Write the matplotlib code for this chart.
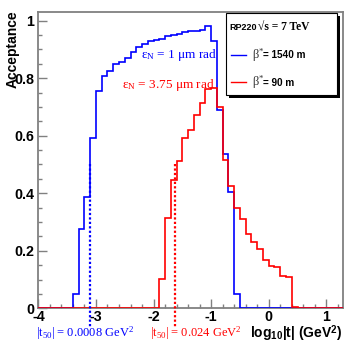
import numpy as np
import matplotlib
matplotlib.use("Agg")
import matplotlib.pyplot as plt
from matplotlib.patches import Rectangle
from matplotlib.ticker import MultipleLocator

plt.rcParams['mathtext.fontset'] = 'custom'
plt.rcParams['mathtext.rm'] = 'Liberation Serif'
plt.rcParams['mathtext.it'] = 'Liberation Serif:italic'
plt.rcParams['mathtext.bf'] = 'Liberation Sans:bold'

# ---- data (log10|t| bins of width 0.1) ----
bin_width = 0.1
x_min, x_max = -4.0, 1.29

blue_start = -3.4
blue_vals = [0.05, 0.275, 0.388, 0.592, 0.757, 0.809, 0.825, 0.848, 0.857, 0.869,
             0.89, 0.907, 0.918, 0.929, 0.933, 0.935, 0.945, 0.95, 0.955, 0.96,
             0.963, 0.965, 0.967, 0.98, 0.928, 0.69, 0.536, 0.405, 0.05]

red_start = -1.9
red_vals = [0.102, 0.315, 0.446, 0.512, 0.591, 0.62, 0.672, 0.713, 0.762, 0.767,
            0.70, 0.516, 0.425, 0.348, 0.31, 0.258, 0.232, 0.206, 0.168, 0.147,
            0.145, 0.113, 0.11, 0.005]

t50_blue = 0.0008
t50_red = 0.024
t50_line_top = 0.5

BLUE = '#0000ff'
RED = '#ff0000'
GRAY = '#808080'


def full_hist(start, vals):
    n_lo = int(round((start - x_min) / bin_width))
    v = [0.0] * n_lo + list(vals)
    end = start + len(vals) * bin_width
    n_hi = int(np.ceil((x_max - end) / bin_width - 1e-9))
    v = v + [0.0] * n_hi
    edges = x_min + bin_width * np.arange(len(v) + 1)
    edges[-1] = min(edges[-1], x_max)
    return edges, np.array(v)


W, H = 360, 354
fig = plt.figure(figsize=(W / 100, H / 100), dpi=100)
ax = fig.add_axes([38.4 / W, 1 - 308.3 / H, (343 - 38.4) / W, (308.3 - 12) / H])

eb, vb = full_hist(blue_start, blue_vals)
er, vr = full_hist(red_start, red_vals)
ax.stairs(vb, eb, color=BLUE, lw=1.2, baseline=None, zorder=3)
ax.stairs(vr, er, color=RED, lw=1.2, baseline=None, zorder=4)

for t, c in [(t50_blue, BLUE), (t50_red, RED)]:
    xv = np.log10(t)
    ax.plot([xv, xv], [t50_line_top, -0.065], color=c, lw=1.6,
            linestyle=(0, (1, 1)), clip_on=False, zorder=5)

ax.set_xlim(x_min, x_max)
ax.set_ylim(0, 1.03)

for s in ax.spines.values():
    s.set_color(GRAY)
    s.set_linewidth(1.3)

ax.xaxis.set_major_locator(MultipleLocator(1))
ax.xaxis.set_minor_locator(MultipleLocator(0.2))
ax.yaxis.set_major_locator(MultipleLocator(0.2))
ax.yaxis.set_minor_locator(MultipleLocator(0.05))
ax.tick_params(which='both', direction='in', color=GRAY, width=1.0,
               top=False, right=False)
ax.tick_params(which='major', length=6.5, labelsize=10.3)
ax.tick_params(axis='x', which='major', pad=1.5)
ax.tick_params(axis='y', which='major', pad=3)
ax.tick_params(which='minor', length=3.2)
ax.set_xticks([-4, -3, -2, -1, 0, 1])
ax.set_xticklabels(['-4', '-3', '-2', '-1', '0', '1'])
ax.set_yticks([0, 0.2, 0.4, 0.6, 0.8, 1.0])
ax.set_yticklabels(['0', '0.2', '0.4', '0.6', '0.8', '1'])
for lab in ax.get_xticklabels() + ax.get_yticklabels():
    lab.set_fontweight('bold')
    lab.set_family('Liberation Sans')

# axis titles
fig.text(12.5 / W, 1 - 10 / H, 'Acceptance', rotation=90, ha='center', va='top',
         fontsize=10, fontweight='bold', family='Liberation Sans')
fig.text(342 / W, 1 - 338.5 / H, r'log$_{\mathbf{10}}$|t| (GeV$^{\mathbf{2}}$)',
         ha='right', va='baseline', fontsize=10, fontweight='bold',
         family='Liberation Sans')

# annotations
fig.text(141 / W, 1 - 58 / H, r'ε$_{\mathrm{N}}$ = 1 μm rad', color=BLUE,
         ha='left', va='baseline', fontsize=9.5, family='Liberation Serif')
fig.text(122 / W, 1 - 88 / H, r'ε$_{\mathrm{N}}$ = 3.75 μm rad', color=RED,
         ha='left', va='baseline', fontsize=9.5, family='Liberation Serif')
fig.text(36 / W, 1 - 337 / H, r'|t$_{\mathrm{50}}$| = 0.0008 GeV$^{\mathrm{2}}$',
         color=BLUE, ha='left', va='baseline', fontsize=9,
         family='Liberation Serif')
fig.text(150 / W, 1 - 337 / H, r'|t$_{\mathrm{50}}$| = 0.024 GeV$^{\mathrm{2}}$',
         color=RED, ha='left', va='baseline', fontsize=9,
         family='Liberation Serif')

# legend box with shadow
def frect(x0, y0, x1, y1, **kw):
    return Rectangle((x0 / W, 1 - y1 / H), (x1 - x0) / W, (y1 - y0) / H,
                     transform=fig.transFigure, **kw)

fig.patches.append(frect(229, 16.5, 339.5, 97.5, facecolor='black',
                         edgecolor='none', zorder=10))
fig.patches.append(frect(226, 13.3, 336.5, 94.5, facecolor='white',
                         edgecolor='black', lw=0.8, zorder=11))

fig.text(229 / W, 1 - 30 / H, 'RP220', ha='left', va='baseline', fontsize=6.5,
         fontweight='bold', family='Liberation Sans', zorder=12)
fig.text(258 / W, 1 - 30 / H, '√s = 7 TeV', ha='left', va='baseline',
         fontsize=8.3, fontweight='bold', family='Liberation Serif', zorder=12)

for ypx, c, lab in [(55, BLUE, '= 1540 m'), (82, RED, '= 90 m')]:
    fig.lines.append(plt.Line2D([231 / W, 246 / W], [1 - ypx / H, 1 - ypx / H],
                                color=c, lw=1.0, transform=fig.transFigure,
                                zorder=12))
    fig.text(252 / W, 1 - (ypx + 3.5) / H, r'β$^{*}$', ha='left', va='baseline',
             fontsize=9, family='Liberation Serif', color='#333333', zorder=12)
    fig.text(263 / W, 1 - (ypx + 3.5) / H, lab, ha='left', va='baseline',
             fontsize=7.2, fontweight='bold', family='Liberation Sans', zorder=12)

fig.savefig('out.png', dpi=100)
